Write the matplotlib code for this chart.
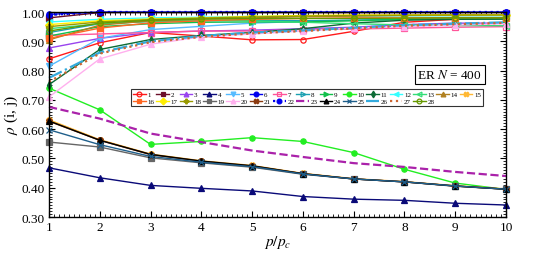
import matplotlib
matplotlib.use('Agg')
import matplotlib.pyplot as plt
from matplotlib.ticker import MultipleLocator, FormatStrFormatter

plt.rcParams['font.family'] = ['Liberation Serif', 'DejaVu Serif']
plt.rcParams['mathtext.fontset'] = 'stix'

x = [1, 2, 3, 4, 5, 6, 7, 8, 9, 10]

s1 = [0.84, 0.895, 0.93, 0.918, 0.905, 0.906, 0.934, 0.965, 0.975, 0.978]
s2 = [0.98, 0.998, 0.998, 0.998, 0.998, 0.998, 0.998, 0.998, 0.998, 0.998]
s3 = [0.877, 0.91, 0.93, 0.935, 0.938, 0.943, 0.948, 0.957, 0.962, 0.962]
s4 = [0.468, 0.434, 0.408, 0.398, 0.389, 0.370, 0.361, 0.357, 0.347, 0.341]
s5 = [0.815, 0.91, 0.94, 0.951, 0.962, 0.968, 0.972, 0.975, 0.976, 0.977]
s6 = [0.992, 1.0, 1.0, 1.0, 1.0, 1.0, 1.0, 1.0, 1.0, 1.0]
s7 = [0.92, 0.925, 0.93, 0.935, 0.935, 0.94, 0.942, 0.945, 0.948, 0.95]
s8 = [0.93, 0.96, 0.968, 0.97, 0.972, 0.97, 0.972, 0.975, 0.976, 0.977]
s9 = [0.918, 0.95, 0.96, 0.965, 0.966, 0.966, 0.97, 0.975, 0.976, 0.977]
s10 = [0.74, 0.666, 0.548, 0.558, 0.571, 0.558, 0.52, 0.463, 0.416, 0.394]
s11 = [0.752, 0.872, 0.906, 0.92, 0.93, 0.943, 0.962, 0.972, 0.975, 0.976]
s12 = [0.966, 0.975, 0.98, 0.982, 0.985, 0.985, 0.986, 0.987, 0.987, 0.987]
s13 = [0.943, 0.96, 0.968, 0.972, 0.97, 0.965, 0.96, 0.956, 0.954, 0.953]
s14 = [0.905, 0.955, 0.97, 0.976, 0.98, 0.984, 0.986, 0.988, 0.989, 0.99]
s15 = [0.632, 0.564, 0.515, 0.492, 0.476, 0.449, 0.431, 0.421, 0.407, 0.396]
s16 = [0.91, 0.945, 0.963, 0.97, 0.975, 0.978, 0.98, 0.98, 0.981, 0.981]
s17 = [0.957, 0.97, 0.976, 0.98, 0.985, 0.988, 0.99, 0.99, 0.991, 0.991]
s18 = [0.95, 0.966, 0.974, 0.979, 0.983, 0.986, 0.988, 0.989, 0.99, 0.99]
s19 = [0.556, 0.539, 0.502, 0.485, 0.470, 0.446, 0.430, 0.420, 0.405, 0.395]
s20 = [0.71, 0.84, 0.89, 0.915, 0.925, 0.935, 0.945, 0.95, 0.955, 0.96]
s21 = [0.627, 0.562, 0.513, 0.490, 0.474, 0.448, 0.430, 0.420, 0.406, 0.395]
s22 = [0.99, 1.0, 1.0, 1.0, 1.0, 1.0, 1.0, 1.0, 1.0, 1.0]
s23 = [0.676, 0.636, 0.585, 0.556, 0.527, 0.505, 0.484, 0.471, 0.454, 0.440]
s24 = [0.628, 0.562, 0.514, 0.491, 0.475, 0.448, 0.430, 0.420, 0.406, 0.395]
s25 = [0.598, 0.547, 0.507, 0.487, 0.472, 0.447, 0.430, 0.420, 0.406, 0.395]
s26 = [0.775, 0.862, 0.9, 0.918, 0.93, 0.937, 0.946, 0.955, 0.96, 0.965]
s27 = [0.762, 0.858, 0.897, 0.915, 0.927, 0.935, 0.944, 0.953, 0.958, 0.963]
s28 = [0.935, 0.962, 0.972, 0.976, 0.978, 0.978, 0.978, 0.979, 0.98, 0.98]

series = [s1, s2, s3, s4, s5, s6, s7, s8, s9, s10, s11, s12, s13, s14,
          s15, s16, s17, s18, s19, s20, s21, s22, s23, s24, s25, s26, s27, s28]
labels = [str(i) for i in range(1, 29)]

# color, linestyle, marker, filled
styles = [
    ('#ff1a1a', '-', 'o', False),
    ('#6b0f2a', '-', 's', True),
    ('#9944ee', '-', '^', True),
    ('#0a0a78', '-', '^', True),
    ('#55bbff', '-', 'v', True),
    ('#0000ee', '-', 'o', True),
    ('#ff5599', '-', 's', False),
    ('#1a9fb0', '-', '>', False),
    ('#11c04a', '-', '>', True),
    ('#22ee22', '-', 'o', True),
    ('#0b6b35', '-', 'd', True),
    ('#33ffff', '-', '<', True),
    ('#33dd77', '-', '<', False),
    ('#b08020', '-', '^', True),
    ('#ffb833', '-', 'X', True),
    ('#ff6622', '-', 's', True),
    ('#ffee00', '-', 'D', True),
    ('#999900', '-', 'P', True),
    ('#666666', '-', 's', True),
    ('#ffb0ee', '-', '^', True),
    ('#8b3a0f', '-', 'X', True),
    ('#0000ee', ':', 'o', True),
    ('#aa22aa', '--', None, True),
    ('#000000', '-', '^', True),
    ('#1f5f8b', '-', 'x', True),
    ('#33aadd', '-.', None, True),
    ('#cc6633', ':', None, True),
    ('#669900', '-', 'o', False),
]

fig = plt.figure(figsize=(5.36, 2.55), dpi=100)
ax = fig.add_axes([0.0914, 0.145, 0.8526, 0.804])

handles = []
for ys, lab, (c, ls, mk, filled) in zip(series, labels, styles):
    lw = 1.6 if ls in ('--', ':', '-.') else 1.0
    h, = ax.plot(x, ys, linestyle=ls, color=c, lw=lw, marker=mk, markersize=3.8,
                 markerfacecolor=c if filled else 'none', markeredgecolor=c,
                 markeredgewidth=0.9, label=lab, clip_on=False)
    handles.append(h)

ax.set_xlim(1, 10)
ax.set_ylim(0.30, 1.00)
ax.xaxis.set_major_locator(MultipleLocator(1))
ax.xaxis.set_minor_locator(MultipleLocator(0.1))
ax.yaxis.set_major_locator(MultipleLocator(0.1))
ax.yaxis.set_minor_locator(MultipleLocator(0.01))
ax.yaxis.set_major_formatter(FormatStrFormatter('%.2f'))
ax.tick_params(which='both', direction='in', top=True, right=True, labelsize=9.5)
ax.tick_params(which='major', length=4, width=0.8, pad=3)
ax.tick_params(which='minor', length=2, width=0.6)
for sp in ax.spines.values():
    sp.set_linewidth(1.0)

ax.set_xlabel(r'$p/p_c$', fontsize=11, labelpad=0)
ax.set_ylabel(r'$\rho$ (i, j)', fontsize=11, labelpad=1)

# legend rows: 1-15 on top, 16-28 below (column-major fill)
order = []
for i in range(13):
    order += [i, i + 15]
order += [13, 14]
leg = ax.legend([handles[i] for i in order], [labels[i] for i in order],
                ncol=15, loc='upper left', bbox_to_anchor=(0.172, 0.64),
                fontsize=5, handlelength=1.8, handletextpad=0.25,
                columnspacing=0.3, borderpad=0.3, labelspacing=0.15,
                frameon=True, fancybox=False, edgecolor='black',
                markerscale=0.9)
leg.get_frame().set_linewidth(0.8)

ax.text(0.877, 0.695, r'ER $N$ = 400', transform=ax.transAxes, fontsize=9.5,
        ha='center', va='center',
        bbox=dict(boxstyle='square,pad=0.2', fc='white', ec='black', lw=0.8))

fig.savefig('out.png', dpi=100)
